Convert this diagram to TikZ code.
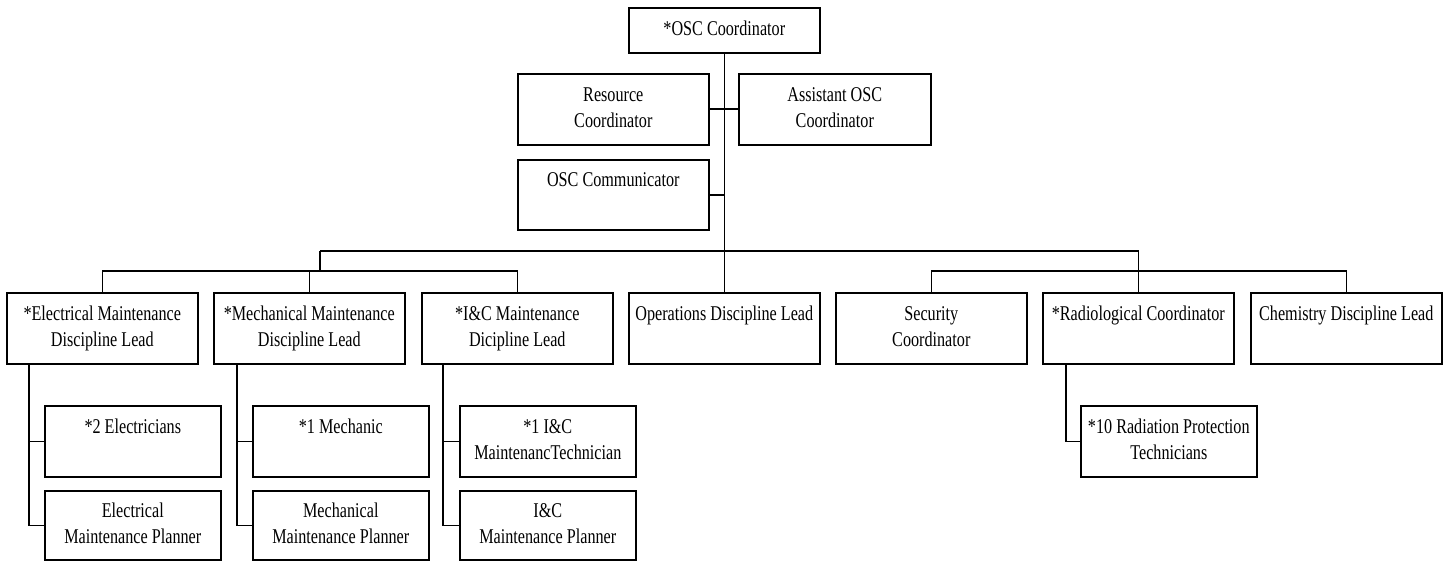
\documentclass[tikz,border=0pt]{standalone}
\usepackage{fontspec}
\setmainfont{Liberation Serif}[FakeStretch=0.77]
\usetikzlibrary{calc}
\begin{document}
\begin{tikzpicture}[x=1pt,y=-1pt,
  orgbox/.style={draw, line width=1.6pt, anchor=north west, inner sep=0pt,
    align=center, font=\fontsize{21}{26}\selectfont},
  topbox/.style={orgbox, minimum width=191pt, minimum height=71pt},
  subbox/.style={orgbox, minimum width=176pt, minimum height=71pt},
  link/.style={line width=1.6pt}]
\useasboundingbox (0,0) rectangle (1450,561);

% command staff
\node[orgbox, minimum width=191pt, minimum height=45pt] (osc) at (628,7) {\strut *OSC Coordinator};
\node[topbox] (res)  at (517,73)  {\strut Resource\\\strut Coordinator};
\node[topbox, minimum width=192pt] (asst) at (738,73) {\strut Assistant OSC\\\strut Coordinator};
\node[topbox, minimum height=70pt] (comm) at (517,159) {\strut OSC Communicator\\\strut};

% discipline leads
\node[topbox] (elec) at (6,292)    {\strut *Electrical Maintenance\\\strut Discipline Lead};
\node[topbox] (mech) at (213,292)  {\strut *Mechanical Maintenance\\\strut Discipline Lead};
\node[topbox] (ic)   at (421,292)  {\strut *I\&C Maintenance\\\strut Dicipline Lead};
\node[topbox] (ops)  at (628,292)  {\strut Operations Discipline Lead\\\strut};
\node[topbox] (sec)  at (835,292)  {\strut Security\\\strut Coordinator};
\node[topbox] (rad)  at (1042,292) {\strut *Radiological Coordinator\\\strut};
\node[topbox] (chem) at (1250,292) {\strut Chemistry Discipline Lead\\\strut};

% crews
\node[subbox] (elecA) at (44,405)  {\strut *2 Electricians\\\strut};
\node[subbox, minimum height=69pt] (elecB) at (44,490)  {\strut Electrical\\\strut Maintenance Planner};
\node[subbox] (mechA) at (252,405) {\strut *1 Mechanic\\\strut};
\node[subbox, minimum height=69pt] (mechB) at (252,490) {\strut Mechanical\\\strut Maintenance Planner};
\node[subbox] (icA)   at (459,405) {\strut *1 I\&C\\\strut MaintenancTechnician};
\node[subbox, minimum height=69pt] (icB)   at (459,490) {\strut I\&C\\\strut Maintenance Planner};
\node[subbox] (radA)  at (1080,405) {\strut *10 Radiation Protection\\\strut Technicians};

% trunk and staff links
\draw[link] (osc.south) -- (ops.north);
\draw[link] (res.east) -- (asst.west);
\draw[link] (comm.east) -- (comm.east -| osc.south);

% distribution buses
\coordinate (busL) at (320,251);
\coordinate (lbus) at (320,271);
\coordinate (rbus) at (1137.5,271);
\draw[link] (busL) -| (rad.north);
\draw[link] (busL) -- (lbus);
\draw[link] (elec.north) |- (lbus -| ic.north) -- (ic.north);
\draw[link] (mech.north) -- (mech.north |- lbus);
\draw[link] (sec.north) |- (rbus -| chem.north) -- (chem.north);

% crew links
\coordinate (ev) at ($(elec.south west)+(23,0)$);
\coordinate (mv) at ($(mech.south west)+(24,0)$);
\coordinate (iv) at ($(ic.south west)+(22,0)$);
\coordinate (rv) at ($(rad.south west)+(24,0)$);
\draw[link] (ev) |- (elecB.west);
\draw[link] (elecA.west) -- (elecA.west -| ev);
\draw[link] (mv) |- (mechB.west);
\draw[link] (mechA.west) -- (mechA.west -| mv);
\draw[link] (iv) |- (icB.west);
\draw[link] (icA.west) -- (icA.west -| iv);
\draw[link] (rv) |- (radA.west);
\end{tikzpicture}
\end{document}
